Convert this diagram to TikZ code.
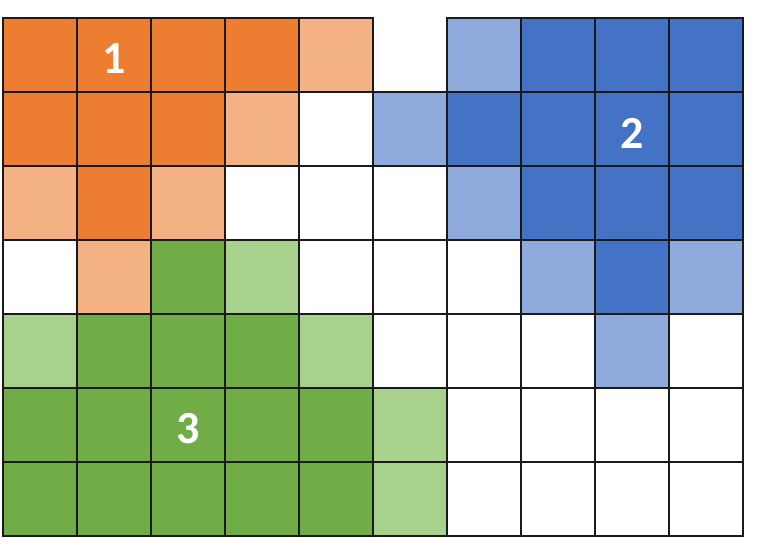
\documentclass[tikz,border=0pt]{standalone}
\usepackage{fontspec}
\setsansfont{Carlito}
\usepackage{xcolor}
\definecolor{cO}{HTML}{ED7D31}
\definecolor{co}{HTML}{F4B183}
\definecolor{cB}{HTML}{4472C4}
\definecolor{cb}{HTML}{8FAADC}
\definecolor{cG}{HTML}{70AD47}
\definecolor{cg}{HTML}{A9D18E}
\definecolor{cW}{HTML}{FFFFFF}
\definecolor{grid}{HTML}{1A1A1A}

\begin{document}
\begin{tikzpicture}[x=1pt, y=-1pt,
    cell/.style={draw=grid, line width=1.5pt, minimum size=74pt, inner sep=0pt, outer sep=0pt},
    lbl/.style={text=white, yshift=-4pt, font=\sffamily\bfseries\fontsize{46}{46}\selectfont}]

  \useasboundingbox (0,0) rectangle (761,556);

  % Cells (n = empty cell with no border of its own).
  \foreach \r/\row in {0/{O,O,O,O,o,n,b,B,B,B},
                       1/{O,O,O,o,W,b,B,B,B,B},
                       2/{o,O,o,W,W,W,b,B,B,B},
                       3/{W,o,G,g,W,W,W,b,B,b},
                       4/{g,G,G,G,g,W,W,W,b,W},
                       5/{G,G,G,G,G,g,W,W,W,W},
                       6/{G,G,G,G,G,g,W,W,W,W}} {
    \foreach \k [count=\c from 0] in \row {
      \if\k n
        \coordinate (c\r-\c) at (40+74*\c, 55+74*\r);
      \else
        \node[cell, fill=c\k] (c\r-\c) at (40+74*\c, 55+74*\r) {};
      \fi
    }
  }

  % Region labels.
  \node[lbl] (one) at (c0-1) {1};
  \node[lbl] (two) at (c1-8) {2};
  \node[lbl] (three) at (c5-2) {3};
\end{tikzpicture}
\end{document}
